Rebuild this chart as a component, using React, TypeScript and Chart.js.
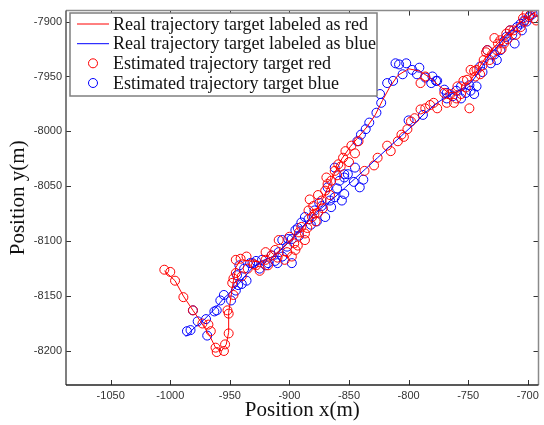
import React, { useEffect, useRef } from "react";
import { Chart, registerables } from "chart.js";

Chart.register(...registerables);

// Real trajectories [x, y]
const redTrue: [number, number][] = [
  [-1005, -8127], [-996, -8136], [-989, -8150], [-981, -8163], [-974, -8174], [-967, -8186],
  [-962, -8197], [-957, -8200], [-953, -8194], [-951, -8183], [-951, -8165], [-949, -8150],
  [-947, -8136], [-945, -8124], [-941, -8117], [-933, -8118], [-924, -8119], [-914, -8114],
  [-906, -8106], [-898, -8098], [-889, -8088], [-881, -8078], [-874, -8066], [-868, -8052],
  [-862, -8038], [-856, -8025], [-849, -8014], [-842, -8005], [-835, -7996], [-828, -7985],
  [-822, -7972], [-816, -7960], [-809, -7949], [-800, -7943], [-791, -7945], [-782, -7951],
  [-774, -7959], [-766, -7965], [-757, -7964], [-749, -7955], [-742, -7944], [-735, -7932],
  [-727, -7922], [-719, -7912], [-711, -7905], [-703, -7898], [-693, -7891],
];

const blueTrue: [number, number][] = [
  [-987, -8187], [-980, -8179], [-972, -8172], [-963, -8162], [-955, -8152], [-946, -8143],
  [-938, -8133], [-931, -8124], [-923, -8118], [-914, -8114], [-906, -8107], [-898, -8098],
  [-889, -8087], [-880, -8076], [-871, -8068], [-862, -8060], [-853, -8051], [-845, -8043],
  [-836, -8034], [-826, -8024], [-816, -8014], [-806, -8004], [-796, -7994], [-786, -7983],
  [-776, -7974], [-766, -7967], [-756, -7962], [-747, -7955], [-740, -7944], [-733, -7932],
  [-725, -7922], [-717, -7912], [-709, -7904], [-701, -7897], [-694, -7891],
];

// Estimated trajectories [x, y]
const redEst: [number, number][] = [
  [-1005, -8126], [-1000, -8128], [-996, -8136], [-989, -8151], [-981, -8163], [-973, -8175],
  [-968, -8176], [-966, -8182], [-962, -8197], [-961, -8201], [-955, -8200], [-954, -8194],
  [-951, -8184], [-951, -8166], [-952, -8163], [-947, -8149], [-948, -8138], [-947, -8134],
  [-945, -8129], [-945, -8117], [-941, -8116], [-936, -8114], [-940, -8132],
  [-930, -8121], [-928, -8122], [-920, -8117], [-912, -8108], [-909, -8099], [-904, -8117],
  [-898, -8114], [-895, -8108], [-887, -8099], [-887, -8093], [-890, -8087], [-881, -8078],
  [-884, -8072], [-876, -8074], [-873, -8063], [-870, -8054], [-868, -8048], [-865, -8045],
  [-862, -8036], [-859, -8030], [-855, -8024], [-880, -8068], [-878, -8082], [-893, -8104],
  [-900, -8096], [-915, -8113], [-925, -8127], [-920, -8110],
  [-935, -8125], [-918, -8122], [-910, -8115], [-902, -8110], [-896, -8102], [-892, -8092],
  [-885, -8088], [-879, -8075], [-872, -8070], [-866, -8058], [-860, -8040], [-857, -8032],
  [-850, -8028], [-883, -8062], [-876, -8058], [-869, -8042],
  [-853, -8018], [-848, -8013], [-845, -8020], [-842, -8009], [-786, -7950], [-790, -7956],
  [-837, -8036], [-829, -8031], [-826, -8024], [-818, -8013], [-809, -8009], [-806, -8003],
  [-801, -7998], [-798, -7991], [-790, -7980], [-786, -7979], [-779, -7974], [-776, -7979],
  [-815, -8018], [-804, -8005], [-795, -7988], [-782, -7976],
  [-770, -7965], [-768, -7974], [-765, -7966], [-762, -7974], [-759, -7959], [-756, -7966],
  [-754, -7954], [-749, -7979], [-751, -7953], [-748, -7944], [-745, -7945], [-743, -7944],
  [-737, -7935], [-734, -7926], [-726, -7926], [-723, -7917], [-718, -7911], [-715, -7908],
  [-706, -7905], [-701, -7893], [-695, -7897], [-693, -7899], [-730, -7930], [-720, -7920],
  [-712, -7908], [-703, -7900], [-740, -7948], [-728, -7915],
  [-760, -7970], [-752, -7960], [-744, -7950], [-738, -7940], [-732, -7935], [-725, -7920],
  [-717, -7916], [-710, -7912], [-704, -7897], [-698, -7894], [-722, -7925], [-735, -7928],
];

const blueEst: [number, number][] = [
  [-986, -8182], [-983, -8181], [-981, -8163], [-977, -8173], [-970, -8171], [-969, -8186],
  [-963, -8164], [-961, -8163], [-958, -8154], [-955, -8149], [-949, -8154], [-945, -8145],
  [-943, -8140], [-940, -8139], [-944, -8131], [-936, -8136], [-933, -8120],
  [-942, -8122], [-931, -8120], [-923, -8117], [-918, -8120], [-906, -8114], [-898, -8120],
  [-906, -8099], [-898, -8098], [-895, -8090], [-890, -8083], [-884, -8080], [-879, -8072],
  [-870, -8078], [-868, -8051], [-865, -8069], [-862, -8060], [-856, -8063], [-862, -8033],
  [-854, -8039], [-854, -8057], [-925, -8125], [-912, -8118], [-902, -8105], [-892, -8095],
  [-875, -8065], [-882, -8085],
  [-938, -8125], [-928, -8118], [-915, -8113], [-909, -8110], [-901, -8098], [-893, -8088],
  [-887, -8078], [-877, -8082], [-873, -8068], [-866, -8063], [-860, -8052], [-858, -8045],
  [-920, -8122], [-910, -8120],
  [-851, -8039], [-841, -8051], [-846, -8046], [-838, -8044],
  [-854, -8042], [-845, -8033], [-843, -8009], [-840, -8003], [-836, -7998], [-833, -7992],
  [-827, -7983], [-823, -7974], [-824, -7966], [-818, -7956], [-813, -7954], [-811, -7938],
  [-808, -7939], [-802, -7938], [-805, -7948], [-797, -7944], [-791, -7942], [-793, -7948],
  [-786, -7951], [-780, -7950], [-777, -7954], [-781, -7956], [-770, -7962], [-768, -7970],
  [-756, -7970], [-748, -7963],
  [-776, -7954], [-768, -7965], [-763, -7968], [-756, -7959], [-745, -7966], [-743, -7959],
  [-740, -7941], [-734, -7926], [-731, -7938], [-723, -7926], [-718, -7914], [-711, -7920],
  [-709, -7905], [-706, -7902], [-699, -7896], [-693, -7891], [-728, -7930], [-715, -7908],
  [-703, -7899], [-800, -7990], [-788, -7985],
  [-760, -7963], [-752, -7965], [-738, -7946], [-726, -7935], [-720, -7918], [-713, -7912],
  [-705, -7908], [-701, -7900], [-696, -7893], [-749, -7958],
];

const xTicks = [-1050, -1000, -950, -900, -850, -800, -750, -700];
const yTicks = [-8200, -8150, -8100, -8050, -8000, -7950, -7900];

const legendLabels = [
  "Real trajectory target labeled as red",
  "Real trajectory target labeled as blue",
  "Estimated trajectory target red",
  "Estimated trajectory target blue",
];

const RED = "#ff0000";
const BLUE = "#0000ff";

const toPts = (arr: [number, number][]) => arr.map(([x, y]) => ({ x, y }));

const decorPlugin = {
  id: "decor",
  afterDatasetsDraw(chart: any) {
    const { ctx, chartArea, scales } = chart;
    const { left, right, top, bottom } = chartArea;
    const xs = scales.x;
    const ys = scales.y;
    ctx.save();
    // inward ticks
    ctx.strokeStyle = "#333";
    ctx.lineWidth = 1;
    const tl = 5;
    xTicks.forEach((v) => {
      const p = Math.round(xs.getPixelForValue(v)) + 0.5;
      ctx.beginPath();
      ctx.moveTo(p, bottom);
      ctx.lineTo(p, bottom - tl);
      ctx.moveTo(p, top);
      ctx.lineTo(p, top + tl);
      ctx.stroke();
    });
    yTicks.forEach((v) => {
      const p = Math.round(ys.getPixelForValue(v)) + 0.5;
      ctx.beginPath();
      ctx.moveTo(left, p);
      ctx.lineTo(left + tl, p);
      ctx.moveTo(right, p);
      ctx.lineTo(right - tl, p);
      ctx.stroke();
    });
    // frame
    ctx.lineWidth = 1.5;
    ctx.strokeStyle = "#8a8a8a";
    ctx.beginPath();
    ctx.moveTo(left, top);
    ctx.lineTo(right, top);
    ctx.lineTo(right, bottom);
    ctx.stroke();
    ctx.strokeStyle = "#555";
    ctx.beginPath();
    ctx.moveTo(left, top);
    ctx.lineTo(left, bottom);
    ctx.stroke();
    ctx.strokeStyle = "#222";
    ctx.beginPath();
    ctx.moveTo(left, bottom);
    ctx.lineTo(right, bottom);
    ctx.stroke();

    // legend
    const bx = 70, by = 13, bw = 307, bh = 83;
    ctx.fillStyle = "#fff";
    ctx.fillRect(bx, by, bw, bh);
    ctx.strokeStyle = "#7f7f7f";
    ctx.lineWidth = 1.5;
    ctx.strokeRect(bx, by, bw, bh);
    const rows = [24, 43.7, 63.3, 83];
    const colors = [RED, BLUE, RED, BLUE];
    ctx.font = '18px "Liberation Serif"';
    ctx.textBaseline = "middle";
    ctx.textAlign = "left";
    rows.forEach((ry, i) => {
      ctx.strokeStyle = colors[i];
      ctx.lineWidth = 1;
      if (i < 2) {
        ctx.beginPath();
        ctx.moveTo(77, ry);
        ctx.lineTo(109, ry);
        ctx.stroke();
      } else {
        ctx.beginPath();
        ctx.arc(93, ry, 4.5, 0, Math.PI * 2);
        ctx.stroke();
      }
      ctx.fillStyle = "#111";
      ctx.fillText(legendLabels[i], 113, ry + 1);
    });

    // axis titles
    ctx.fillStyle = "#111";
    ctx.font = '21px "Liberation Serif"';
    ctx.textAlign = "center";
    ctx.textBaseline = "middle";
    ctx.fillText("Position x(m)", (left + right) / 2, 410);
    ctx.save();
    ctx.translate(18, (top + bottom) / 2);
    ctx.rotate(-Math.PI / 2);
    ctx.fillText("Position y(m)", 0, 0);
    ctx.restore();
    ctx.restore();
  },
};

export default function App() {
  const ref = useRef<HTMLCanvasElement | null>(null);
  useEffect(() => {
    document.body.style.margin = "0";
    if (!ref.current) return;
    const chart = new Chart(ref.current, {
      type: "scatter",
      data: {
        datasets: [
          {
            label: legendLabels[0],
            data: toPts(redTrue),
            showLine: true,
            borderColor: RED,
            borderWidth: 1,
            pointRadius: 0,
            tension: 0,
          },
          {
            label: legendLabels[1],
            data: toPts(blueTrue),
            showLine: true,
            borderColor: BLUE,
            borderWidth: 1,
            pointRadius: 0,
            tension: 0,
          },
          {
            label: legendLabels[2],
            data: toPts(redEst),
            showLine: false,
            borderColor: RED,
            backgroundColor: "rgba(0,0,0,0)",
            pointBorderColor: RED,
            pointBackgroundColor: "rgba(0,0,0,0)",
            pointBorderWidth: 1,
            pointRadius: 4.5,
          },
          {
            label: legendLabels[3],
            data: toPts(blueEst),
            showLine: false,
            borderColor: BLUE,
            backgroundColor: "rgba(0,0,0,0)",
            pointBorderColor: BLUE,
            pointBackgroundColor: "rgba(0,0,0,0)",
            pointBorderWidth: 1,
            pointRadius: 4.5,
          },
        ],
      },
      options: {
        animation: false,
        responsive: true,
        maintainAspectRatio: false,
        layout: { padding: { left: 0, top: 9, right: 2, bottom: 0 } },
        plugins: { legend: { display: false }, tooltip: { enabled: false } },
        scales: {
          x: {
            type: "linear",
            min: -1087.5,
            max: -691,
            afterBuildTicks: (s: any) => {
              s.ticks = xTicks.map((v) => ({ value: v }));
            },
            afterFit: (s: any) => {
              s.height = 40;
            },
            grid: { display: false, drawTicks: false },
            border: { display: false },
            ticks: {
              padding: 4,
              maxRotation: 0,
              autoSkip: false,
              color: "#333",
              font: { family: "Liberation Sans", size: 11 },
              callback: (v: any) => String(v),
            },
          },
          y: {
            type: "linear",
            min: -8231,
            max: -7890,
            afterBuildTicks: (s: any) => {
              s.ticks = yTicks.map((v) => ({ value: v }));
            },
            afterFit: (s: any) => {
              s.width = 66;
            },
            grid: { display: false, drawTicks: false },
            border: { display: false },
            ticks: {
              padding: 4,
              autoSkip: false,
              color: "#333",
              font: { family: "Liberation Sans", size: 11 },
              callback: (v: any) => String(v),
            },
          },
        },
      },
      plugins: [decorPlugin],
    });
    return () => chart.destroy();
  }, []);
  return (
    <div style={{ position: "fixed", left: 0, top: 0, width: 544, height: 425, background: "#fff" }}>
      <canvas ref={ref} />
    </div>
  );
}
